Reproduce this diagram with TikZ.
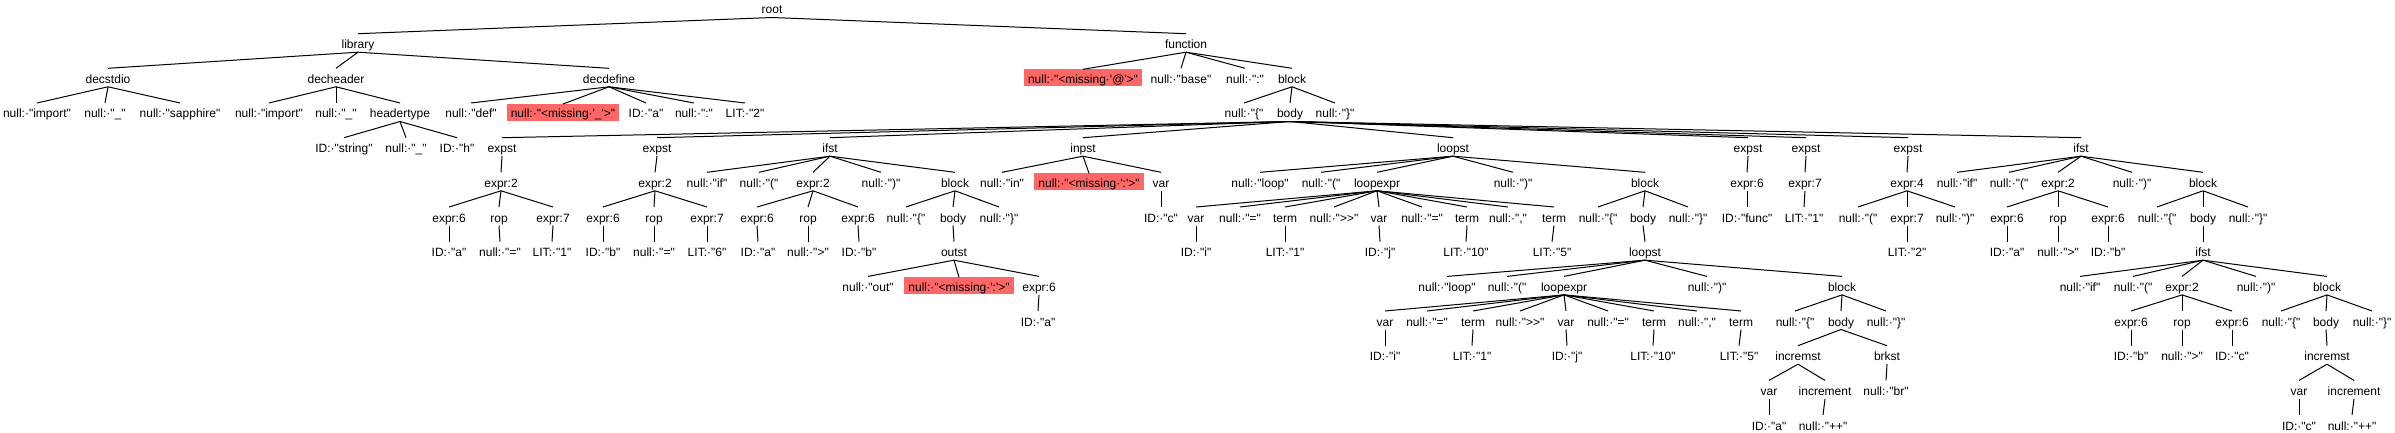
\documentclass[tikz,border=0pt]{standalone}
\usepackage{fontspec}
\setmainfont{Liberation Sans}[Ligatures=TeXOff]
\definecolor{missred}{RGB}{255,102,102}
\begin{document}
\begin{tikzpicture}[
 x=1pt,y=-1pt,
 line width=1pt,
 lbl/.style={anchor=base,inner xsep=0pt,inner ysep=0pt,outer sep=0pt,text height=15pt,text depth=3.5pt,font=\fontsize{12pt}{14pt}\selectfont},
 miss/.style={lbl,fill=missred,inner xsep=4pt,text height=14pt,text depth=3pt}
]
\useasboundingbox (0,0) rectangle (2395,433);
% level 0 - 2
\node[lbl] (root) at (772,14) {root};
\node[lbl] (lib) at (358,48.7) {library};
\node[lbl] (fn) at (1186,48.7) {function};
\node[lbl] (dstd) at (108,83.3) {decstdio};
\node[lbl] (dhdr) at (336,83.3) {decheader};
\node[lbl] (ddef) at (609,83.3) {decdefine};
\node[miss] (fmiss) at (1083,83.3) {null:·"<missing·\textquotesingle @\textquotesingle >"};
\node[lbl] (fbase) at (1181,83.3) {null:·"base"};
\node[lbl] (fcol) at (1245,83.3) {null:·":"};
\node[lbl] (fblk) at (1292,83.3) {block};
% level 3
\node[lbl] (dstdA) at (37,118) {null:·"import"};
\node[lbl] (dstdB) at (105,118) {null:·"\_"};
\node[lbl] (dstdC) at (180,118) {null:·"sapphire"};
\node[lbl] (dhdrA) at (269,118) {null:·"import"};
\node[lbl] (dhdrB) at (336,118) {null:·"\_"};
\node[lbl] (htype) at (400,118) {headertype};
\node[lbl] (ddefA) at (471,118) {null:·"def"};
\node[miss] (ddefB) at (563,118) {null:·"<missing·\textquotesingle\_\textquotesingle >"};
\node[lbl] (ddefC) at (646,118) {ID:·"a"};
\node[lbl] (ddefD) at (694,118) {null:·":"};
\node[lbl] (ddefE) at (745,118) {LIT:·"2"};
\node[lbl] (fbA) at (1244,118) {null:·"\{"};
\node[lbl] (fbody) at (1290,118) {body};
\node[lbl] (fbC) at (1335,118) {null:·"\}"};
% level 4
\node[lbl] (htA) at (344,152.7) {ID:·"string"};
\node[lbl] (htB) at (406,152.7) {null:·"\_"};
\node[lbl] (htC) at (457,152.7) {ID:·"h"};
\node[lbl] (s1) at (502,152.7) {expst};
\node[lbl] (s2) at (657,152.7) {expst};
\node[lbl] (s3) at (830,152.7) {ifst};
\node[lbl] (s4) at (1083,152.7) {inpst};
\node[lbl] (s5) at (1453,152.7) {loopst};
\node[lbl] (s6) at (1748,152.7) {expst};
\node[lbl] (s7) at (1806,152.7) {expst};
\node[lbl] (s8) at (1908,152.7) {expst};
\node[lbl] (s9) at (2081,152.7) {ifst};
% level 5
\node[lbl] (s1e) at (501,187.3) {expr:2};
\node[lbl] (s2e) at (655,187.3) {expr:2};
\node[lbl] (s3a) at (707,187.3) {null:·"if"};
\node[lbl] (s3b) at (759,187.3) {null:·"("};
\node[lbl] (s3e) at (813,187.3) {expr:2};
\node[lbl] (s3c) at (881,187.3) {null:·")"};
\node[lbl] (s3blk) at (955,187.3) {block};
\node[lbl] (s4a) at (1002,187.3) {null:·"in"};
\node[miss] (s4b) at (1089,187.3) {null:·"<missing·\textquotesingle :\textquotesingle >"};
\node[lbl] (s4v) at (1161,187.3) {var};
\node[lbl] (s5a) at (1260,187.3) {null:·"loop"};
\node[lbl] (s5b) at (1321,187.3) {null:·"("};
\node[lbl] (s5x) at (1377,187.3) {loopexpr};
\node[lbl] (s5c) at (1513,187.3) {null:·")"};
\node[lbl] (s5blk) at (1645,187.3) {block};
\node[lbl] (s6e) at (1747,187.3) {expr:6};
\node[lbl] (s7e) at (1805,187.3) {expr:7};
\node[lbl] (s8e) at (1907,187.3) {expr:4};
\node[lbl] (s9a) at (1957,187.3) {null:·"if"};
\node[lbl] (s9b) at (2009,187.3) {null:·"("};
\node[lbl] (s9e) at (2058,187.3) {expr:2};
\node[lbl] (s9c) at (2132,187.3) {null:·")"};
\node[lbl] (s9blk) at (2203,187.3) {block};
% level 6
\node[lbl] (s1l) at (449,222) {expr:6};
\node[lbl] (s1o) at (499,222) {rop};
\node[lbl] (s1r) at (553,222) {expr:7};
\node[lbl] (s2l) at (603,222) {expr:6};
\node[lbl] (s2o) at (654,222) {rop};
\node[lbl] (s2r) at (707,222) {expr:7};
\node[lbl] (s3l) at (757,222) {expr:6};
\node[lbl] (s3o) at (808,222) {rop};
\node[lbl] (s3r) at (858,222) {expr:6};
\node[lbl] (s3bA) at (906,222) {null:·"\{"};
\node[lbl] (s3body) at (953,222) {body};
\node[lbl] (s3bC) at (999,222) {null:·"\}"};
\node[lbl] (s4id) at (1161,222) {ID:·"c"};
\node[lbl] (x1) at (1196,222) {var};
\node[lbl] (x2) at (1240,222) {null:·"="};
\node[lbl] (x3) at (1285,222) {term};
\node[lbl] (x4) at (1334,222) {null:·">>"};
\node[lbl] (x5) at (1379,222) {var};
\node[lbl] (x6) at (1422,222) {null:·"="};
\node[lbl] (x7) at (1467,222) {term};
\node[lbl] (x8) at (1508,222) {null:·","};
\node[lbl] (x9) at (1554,222) {term};
\node[lbl] (s5bA) at (1598,222) {null:·"\{"};
\node[lbl] (s5body) at (1643,222) {body};
\node[lbl] (s5bC) at (1688,222) {null:·"\}"};
\node[lbl] (s6id) at (1747,222) {ID:·"func"};
\node[lbl] (s7lit) at (1804,222) {LIT:·"1"};
\node[lbl] (s8a) at (1858,222) {null:·"("};
\node[lbl] (s8x) at (1907,222) {expr:7};
\node[lbl] (s8c) at (1955,222) {null:·")"};
\node[lbl] (s9l) at (2007,222) {expr:6};
\node[lbl] (s9o) at (2058,222) {rop};
\node[lbl] (s9r) at (2108,222) {expr:6};
\node[lbl] (s9bA) at (2157,222) {null:·"\{"};
\node[lbl] (s9body) at (2203,222) {body};
\node[lbl] (s9bC) at (2248,222) {null:·"\}"};
% level 7
\node[lbl] (s1lid) at (449,256.7) {ID:·"a"};
\node[lbl] (s1op) at (500,256.7) {null:·"="};
\node[lbl] (s1lit) at (552,256.7) {LIT:·"1"};
\node[lbl] (s2lid) at (603,256.7) {ID:·"b"};
\node[lbl] (s2op) at (654,256.7) {null:·"="};
\node[lbl] (s2lit) at (707,256.7) {LIT:·"6"};
\node[lbl] (s3lid) at (758,256.7) {ID:·"a"};
\node[lbl] (s3op) at (808,256.7) {null:·">"};
\node[lbl] (s3rid) at (859,256.7) {ID:·"b"};
\node[lbl] (out) at (954,256.7) {outst};
\node[lbl] (x1id) at (1196,256.7) {ID:·"i"};
\node[lbl] (x3lit) at (1285,256.7) {LIT:·"1"};
\node[lbl] (x5id) at (1380,256.7) {ID:·"j"};
\node[lbl] (x7lit) at (1466,256.7) {LIT:·"10"};
\node[lbl] (x9lit) at (1552,256.7) {LIT:·"5"};
\node[lbl] (lp) at (1645,256.7) {loopst};
\node[lbl] (s8lit) at (1907,256.7) {LIT:·"2"};
\node[lbl] (s9lid) at (2007,256.7) {ID:·"a"};
\node[lbl] (s9op) at (2058,256.7) {null:·">"};
\node[lbl] (s9rid) at (2108,256.7) {ID:·"b"};
\node[lbl] (if2) at (2203,256.7) {ifst};
% level 8
\node[lbl] (outA) at (868,291.4) {null:·"out"};
\node[miss] (outB) at (959,291.4) {null:·"<missing·\textquotesingle :\textquotesingle >"};
\node[lbl] (outE) at (1039,291.4) {expr:6};
\node[lbl] (lpA) at (1447,291.4) {null:·"loop"};
\node[lbl] (lpB) at (1507,291.4) {null:·"("};
\node[lbl] (lpx) at (1564,291.4) {loopexpr};
\node[lbl] (lpC) at (1707,291.4) {null:·")"};
\node[lbl] (lpblk) at (1842,291.4) {block};
\node[lbl] (if2a) at (2080,291.4) {null:·"if"};
\node[lbl] (if2b) at (2133,291.4) {null:·"("};
\node[lbl] (if2e) at (2182,291.4) {expr:2};
\node[lbl] (if2c) at (2256,291.4) {null:·")"};
\node[lbl] (if2blk) at (2327,291.4) {block};
% level 9
\node[lbl] (outid) at (1038,326) {ID:·"a"};
\node[lbl] (y1) at (1385,326) {var};
\node[lbl] (y2) at (1427,326) {null:·"="};
\node[lbl] (y3) at (1473,326) {term};
\node[lbl] (y4) at (1520,326) {null:·">>"};
\node[lbl] (y5) at (1566,326) {var};
\node[lbl] (y6) at (1608,326) {null:·"="};
\node[lbl] (y7) at (1654,326) {term};
\node[lbl] (y8) at (1697,326) {null:·","};
\node[lbl] (y9) at (1741,326) {term};
\node[lbl] (lbA) at (1795,326) {null:·"\{"};
\node[lbl] (lbody) at (1841,326) {body};
\node[lbl] (lbC) at (1886,326) {null:·"\}"};
\node[lbl] (if2l) at (2131,326) {expr:6};
\node[lbl] (if2o) at (2182,326) {rop};
\node[lbl] (if2r) at (2232,326) {expr:6};
\node[lbl] (ibA) at (2281,326) {null:·"\{"};
\node[lbl] (ibody) at (2326,326) {body};
\node[lbl] (ibC) at (2372,326) {null:·"\}"};
% level 10 - 12
\node[lbl] (y1id) at (1385,360.7) {ID:·"i"};
\node[lbl] (y3lit) at (1472,360.7) {LIT:·"1"};
\node[lbl] (y5id) at (1567,360.7) {ID:·"j"};
\node[lbl] (y7lit) at (1653,360.7) {LIT:·"10"};
\node[lbl] (y9lit) at (1739,360.7) {LIT:·"5"};
\node[lbl] (inc1) at (1798,360.7) {incremst};
\node[lbl] (brk) at (1887,360.7) {brkst};
\node[lbl] (if2lid) at (2131,360.7) {ID:·"b"};
\node[lbl] (if2op) at (2182,360.7) {null:·">"};
\node[lbl] (if2rid) at (2232,360.7) {ID:·"c"};
\node[lbl] (inc2) at (2327,360.7) {incremst};
\node[lbl] (inc1v) at (1769,395.4) {var};
\node[lbl] (inc1i) at (1825,395.4) {increment};
\node[lbl] (brkA) at (1886,395.4) {null:·"br"};
\node[lbl] (inc2v) at (2299,395.4) {var};
\node[lbl] (inc2i) at (2354,395.4) {increment};
\node[lbl] (inc1vid) at (1769,430) {ID:·"a"};
\node[lbl] (inc1op) at (1823,430) {null:·"++"};
\node[lbl] (inc2vid) at (2299,430) {ID:·"c"};
\node[lbl] (inc2op) at (2352,430) {null:·"++"};
% edges
\draw (root.south) -- (lib.north);
\draw (root.south) -- (fn.north);
\draw (lib.south) -- (dstd.north);
\draw (lib.south) -- (dhdr.north);
\draw (lib.south) -- (ddef.north);
\draw (dstd.south) -- (dstdA.north);
\draw (dstd.south) -- (dstdB.north);
\draw (dstd.south) -- (dstdC.north);
\draw (dhdr.south) -- (dhdrA.north);
\draw (dhdr.south) -- (dhdrB.north);
\draw (dhdr.south) -- (htype.north);
\draw (htype.south) -- (htA.north);
\draw (htype.south) -- (htB.north);
\draw (htype.south) -- (htC.north);
\draw (ddef.south) -- (ddefA.north);
\draw (ddef.south) -- (ddefB.north);
\draw (ddef.south) -- (ddefC.north);
\draw (ddef.south) -- (ddefD.north);
\draw (ddef.south) -- (ddefE.north);
\draw (fn.south) -- (fmiss.north);
\draw (fn.south) -- (fbase.north);
\draw (fn.south) -- (fcol.north);
\draw (fn.south) -- (fblk.north);
\draw (fblk.south) -- (fbA.north);
\draw (fblk.south) -- (fbody.north);
\draw (fblk.south) -- (fbC.north);
\draw (fbody.south) -- (s1.north);
\draw (fbody.south) -- (s2.north);
\draw (fbody.south) -- (s3.north);
\draw (fbody.south) -- (s4.north);
\draw (fbody.south) -- (s5.north);
\draw (fbody.south) -- (s6.north);
\draw (fbody.south) -- (s7.north);
\draw (fbody.south) -- (s8.north);
\draw (fbody.south) -- (s9.north);
\draw (s1.south) -- (s1e.north);
\draw (s1e.south) -- (s1l.north);
\draw (s1e.south) -- (s1o.north);
\draw (s1e.south) -- (s1r.north);
\draw (s1l.south) -- (s1lid.north);
\draw (s1o.south) -- (s1op.north);
\draw (s1r.south) -- (s1lit.north);
\draw (s2.south) -- (s2e.north);
\draw (s2e.south) -- (s2l.north);
\draw (s2e.south) -- (s2o.north);
\draw (s2e.south) -- (s2r.north);
\draw (s2l.south) -- (s2lid.north);
\draw (s2o.south) -- (s2op.north);
\draw (s2r.south) -- (s2lit.north);
\draw (s3.south) -- (s3a.north);
\draw (s3.south) -- (s3b.north);
\draw (s3.south) -- (s3e.north);
\draw (s3.south) -- (s3c.north);
\draw (s3.south) -- (s3blk.north);
\draw (s3e.south) -- (s3l.north);
\draw (s3e.south) -- (s3o.north);
\draw (s3e.south) -- (s3r.north);
\draw (s3l.south) -- (s3lid.north);
\draw (s3o.south) -- (s3op.north);
\draw (s3r.south) -- (s3rid.north);
\draw (s3blk.south) -- (s3bA.north);
\draw (s3blk.south) -- (s3body.north);
\draw (s3blk.south) -- (s3bC.north);
\draw (s3body.south) -- (out.north);
\draw (out.south) -- (outA.north);
\draw (out.south) -- (outB.north);
\draw (out.south) -- (outE.north);
\draw (outE.south) -- (outid.north);
\draw (s4.south) -- (s4a.north);
\draw (s4.south) -- (s4b.north);
\draw (s4.south) -- (s4v.north);
\draw (s4v.south) -- (s4id.north);
\draw (s5.south) -- (s5a.north);
\draw (s5.south) -- (s5b.north);
\draw (s5.south) -- (s5x.north);
\draw (s5.south) -- (s5c.north);
\draw (s5.south) -- (s5blk.north);
\draw (s5x.south) -- (x1.north);
\draw (s5x.south) -- (x2.north);
\draw (s5x.south) -- (x3.north);
\draw (s5x.south) -- (x4.north);
\draw (s5x.south) -- (x5.north);
\draw (s5x.south) -- (x6.north);
\draw (s5x.south) -- (x7.north);
\draw (s5x.south) -- (x8.north);
\draw (s5x.south) -- (x9.north);
\draw (x1.south) -- (x1id.north);
\draw (x3.south) -- (x3lit.north);
\draw (x5.south) -- (x5id.north);
\draw (x7.south) -- (x7lit.north);
\draw (x9.south) -- (x9lit.north);
\draw (s5blk.south) -- (s5bA.north);
\draw (s5blk.south) -- (s5body.north);
\draw (s5blk.south) -- (s5bC.north);
\draw (s5body.south) -- (lp.north);
\draw (lp.south) -- (lpA.north);
\draw (lp.south) -- (lpB.north);
\draw (lp.south) -- (lpx.north);
\draw (lp.south) -- (lpC.north);
\draw (lp.south) -- (lpblk.north);
\draw (lpx.south) -- (y1.north);
\draw (lpx.south) -- (y2.north);
\draw (lpx.south) -- (y3.north);
\draw (lpx.south) -- (y4.north);
\draw (lpx.south) -- (y5.north);
\draw (lpx.south) -- (y6.north);
\draw (lpx.south) -- (y7.north);
\draw (lpx.south) -- (y8.north);
\draw (lpx.south) -- (y9.north);
\draw (y1.south) -- (y1id.north);
\draw (y3.south) -- (y3lit.north);
\draw (y5.south) -- (y5id.north);
\draw (y7.south) -- (y7lit.north);
\draw (y9.south) -- (y9lit.north);
\draw (lpblk.south) -- (lbA.north);
\draw (lpblk.south) -- (lbody.north);
\draw (lpblk.south) -- (lbC.north);
\draw (lbody.south) -- (inc1.north);
\draw (lbody.south) -- (brk.north);
\draw (inc1.south) -- (inc1v.north);
\draw (inc1.south) -- (inc1i.north);
\draw (inc1v.south) -- (inc1vid.north);
\draw (inc1i.south) -- (inc1op.north);
\draw (brk.south) -- (brkA.north);
\draw (s6.south) -- (s6e.north);
\draw (s6e.south) -- (s6id.north);
\draw (s7.south) -- (s7e.north);
\draw (s7e.south) -- (s7lit.north);
\draw (s8.south) -- (s8e.north);
\draw (s8e.south) -- (s8a.north);
\draw (s8e.south) -- (s8x.north);
\draw (s8e.south) -- (s8c.north);
\draw (s8x.south) -- (s8lit.north);
\draw (s9.south) -- (s9a.north);
\draw (s9.south) -- (s9b.north);
\draw (s9.south) -- (s9e.north);
\draw (s9.south) -- (s9c.north);
\draw (s9.south) -- (s9blk.north);
\draw (s9e.south) -- (s9l.north);
\draw (s9e.south) -- (s9o.north);
\draw (s9e.south) -- (s9r.north);
\draw (s9l.south) -- (s9lid.north);
\draw (s9o.south) -- (s9op.north);
\draw (s9r.south) -- (s9rid.north);
\draw (s9blk.south) -- (s9bA.north);
\draw (s9blk.south) -- (s9body.north);
\draw (s9blk.south) -- (s9bC.north);
\draw (s9body.south) -- (if2.north);
\draw (if2.south) -- (if2a.north);
\draw (if2.south) -- (if2b.north);
\draw (if2.south) -- (if2e.north);
\draw (if2.south) -- (if2c.north);
\draw (if2.south) -- (if2blk.north);
\draw (if2e.south) -- (if2l.north);
\draw (if2e.south) -- (if2o.north);
\draw (if2e.south) -- (if2r.north);
\draw (if2l.south) -- (if2lid.north);
\draw (if2o.south) -- (if2op.north);
\draw (if2r.south) -- (if2rid.north);
\draw (if2blk.south) -- (ibA.north);
\draw (if2blk.south) -- (ibody.north);
\draw (if2blk.south) -- (ibC.north);
\draw (ibody.south) -- (inc2.north);
\draw (inc2.south) -- (inc2v.north);
\draw (inc2.south) -- (inc2i.north);
\draw (inc2v.south) -- (inc2vid.north);
\draw (inc2i.south) -- (inc2op.north);
\end{tikzpicture}
\end{document}
